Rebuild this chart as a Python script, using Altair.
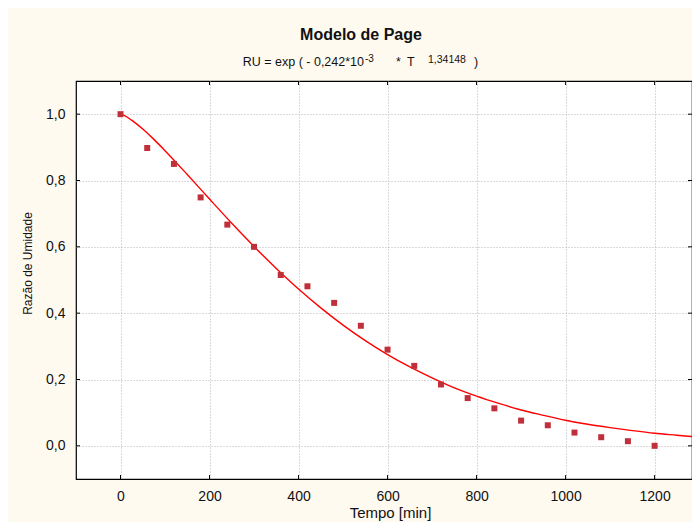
import altair as alt
import pandas as pd

tempo = [0, 60, 120, 180, 240, 300, 360, 420, 480, 540, 600, 660, 720, 780, 840, 900, 960, 1020, 1080, 1140, 1200]
ru = [1.0, 0.898, 0.85, 0.749, 0.667, 0.60, 0.515, 0.481, 0.431, 0.362, 0.29, 0.241, 0.185, 0.144, 0.113, 0.076, 0.062, 0.040, 0.026, 0.014, 0.0]

# Fitted curve, values
curve_t = [0, 10, 25, 50, 75, 100, 150, 200, 250, 300, 350, 400, 450, 500, 550, 600, 650, 700, 750, 800, 850, 900, 950, 1000, 1050, 1100, 1150, 1200, 1250, 1300]
curve_ru = [1.0, 0.995, 0.982, 0.955, 0.924, 0.890, 0.818, 0.744, 0.671, 0.601, 0.535, 0.473, 0.416, 0.364, 0.317, 0.275, 0.238, 0.205, 0.175, 0.150, 0.128, 0.108, 0.092, 0.077, 0.065, 0.055, 0.046, 0.038, 0.032, 0.026]

x_ticks = [0, 200, 400, 600, 800, 1000, 1200]
y_ticks = [0.0, 0.2, 0.4, 0.6, 0.8, 1.0]

W, H = 616, 398
FONT = "Liberation Sans"

pts = pd.DataFrame({"T": tempo, "RU": ru})
crv = pd.DataFrame({"T": curve_t, "RU": curve_ru})
xt = pd.DataFrame({"T": x_ticks})
yt = pd.DataFrame({"RU": y_ticks})

xscale = alt.Scale(domain=[-100, 1284], nice=False, zero=False)
yscale = alt.Scale(domain=[-0.1, 1.1], nice=False, zero=False)

xaxis = alt.Axis(values=x_ticks, format="d", grid=True, gridColor="#b4b4b4", gridDash=[1, 2],
                 gridWidth=1, ticks=False, domain=False, labelFont=FONT, labelFontSize=14,
                 labelColor="#111", labelPadding=10, titleFont=FONT, titleFontSize=15,
                 titleFontWeight="normal", titleColor="#111", titleX=314, titleY=38,
                 titleBaseline="alphabetic")
yaxis = alt.Axis(values=y_ticks, grid=True, gridColor="#b4b4b4", gridDash=[1, 2], gridWidth=1,
                 ticks=False, domain=False, labelFont=FONT, labelFontSize=14, labelColor="#111",
                 labelPadding=11, labelExpr="replace(format(datum.value, '.1f'), '.', ',')",
                 titleFont=FONT, titleFontSize=12, titleFontWeight="normal", titleColor="#111",
                 titleX=-49, titleY=182, titleAngle=270, titleAlign="center", titleBaseline="middle")

X = alt.X("T:Q", scale=xscale, axis=xaxis, title="Tempo [min]")
Y = alt.Y("RU:Q", scale=yscale, axis=yaxis, title="Razão de Umidade")
X2 = alt.X("T:Q", scale=xscale, title="Tempo [min]")
Y2 = alt.Y("RU:Q", scale=yscale, title="Razão de Umidade")

curve = alt.Chart(crv).mark_line(color="#ff0000", strokeWidth=1.4, interpolate="monotone", clip=True).encode(x=X, y=Y)
points = alt.Chart(pts).mark_point(shape="square", filled=True, size=36, color="#c0303a", opacity=1).encode(x=X2, y=Y2)

tb = alt.Chart(xt).mark_rule(color="black").encode(x=X2, y=alt.value(H), y2=alt.value(H - 4))
tt = alt.Chart(xt).mark_rule(color="black").encode(x=X2, y=alt.value(0), y2=alt.value(4))
tl = alt.Chart(yt).mark_rule(color="black").encode(y=Y2, x=alt.value(0), x2=alt.value(4))
tr = alt.Chart(yt).mark_rule(color="black").encode(y=Y2, x=alt.value(W - 4), x2=alt.value(W))

def txt(s, x, y, size, weight="normal", align="left"):
    return alt.Chart(pd.DataFrame({"s": [s]})).mark_text(
        font=FONT, fontSize=size, fontWeight=weight, align=align, baseline="alphabetic", color="#111"
    ).encode(text="s:N", x=alt.value(x), y=alt.value(y))

title = txt("Modelo de Page", 285, -41, 16, "bold", "center")
s1 = txt("RU = exp ( - 0,242*10", 288, -15, 12.5, align="right")
s2 = txt("-3", 289, -19, 10)
s3 = txt("*", 320, -15, 12.5)
s3b = txt("T", 331, -15, 12.5)
s4 = txt("1,34148", 352, -18, 10.5)
s5 = txt(")", 398, -15, 12.5)

chart = alt.layer(curve, points, tb, tt, tl, tr, title, s1, s2, s3, s3b, s4, s5).properties(
    width=W, height=H, autosize="none",
    padding={"left": 68, "top": 73, "right": 0, "bottom": 43},
    background="#fffaf0",
).configure_view(stroke="black", strokeWidth=1.2, fill="white")

chart.save("out.html", embed_options={"renderer": "svg", "actions": False})
